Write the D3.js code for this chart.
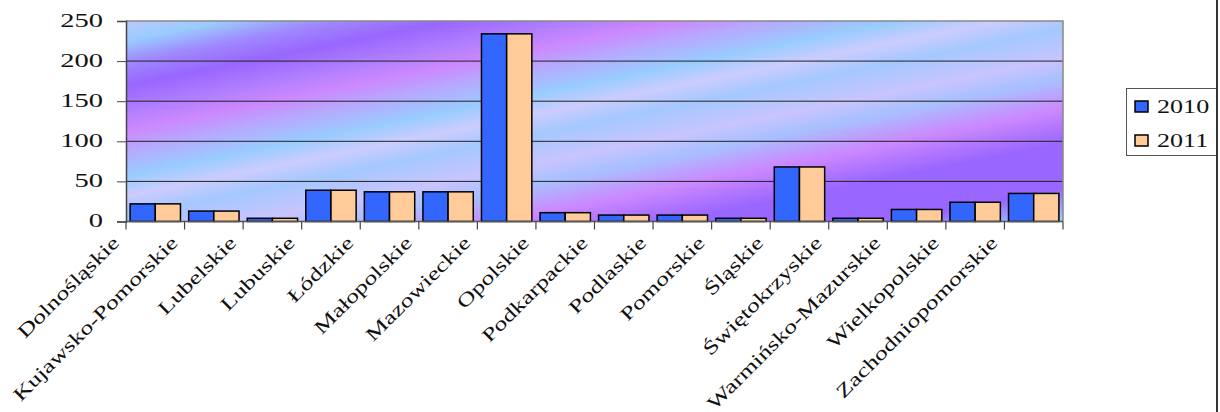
<!DOCTYPE html>
<html>
<head>
<meta charset="utf-8">
<script src="https://cdn.jsdelivr.net/npm/d3@7"></script>
<style>
  body { margin: 0; background: #fff; }
  text { font-family: "Liberation Serif", serif; font-weight: 400; fill: #111; }
</style>
</head>
<body>
<script>
// Data
const regions = ['Dolnośląskie', 'Kujawsko-Pomorskie', 'Lubelskie', 'Lubuskie', 'Łódzkie',
  'Małopolskie', 'Mazowieckie', 'Opolskie', 'Podkarpackie', 'Podlaskie', 'Pomorskie',
  'Śląskie', 'Świętokrzyskie', 'Warmińsko-Mazurskie', 'Wielkopolskie', 'Zachodniopomorskie'];
const years = ['2010', '2011'];
const values2010 = [22, 13, 4, 39, 37, 37, 234, 11, 8, 8, 4, 68, 4, 15, 24, 35];
const values2011 = [22, 13, 4, 39, 37, 37, 234, 11, 8, 8, 4, 68, 4, 15, 24, 35];
const yTicks = [0, 50, 100, 150, 200, 250];

const width = 1220, height = 412;
const plot = { left: 126, right: 1063, top: 21, bottom: 221.5 };
const colors = { '2010': '#3366ff', '2011': '#ffcc99' };

const svg = d3.select('body').append('svg')
  .attr('width', width)
  .attr('height', height);

// background gradient, diagonal bands rising to the right
const k = 0.2, span = 410, xRef = 130;
const bandStops = [
  [0, '#c4ccff'], [21, '#bcc8ff'], [40, '#99ccff'], [62, '#a088ff'], [85, '#9966ff'],
  [110, '#b07eff'], [130, '#cc88ff'], [152, '#b4acff'], [175, '#99ccff'], [195, '#ccccff'],
  [215, '#a4c8ff'], [245, '#c8c4ff'], [265, '#a8c0ff'], [295, '#cc88ff'], [330, '#9966ff'],
  [375, '#9966ff'], [405, '#99ccff']
];
const D = span / (1 + k * k);
const grad = svg.append('defs').append('linearGradient')
  .attr('id', 'bg')
  .attr('gradientUnits', 'userSpaceOnUse')
  .attr('x1', xRef).attr('y1', 0)
  .attr('x2', xRef + k * D).attr('y2', D);
grad.selectAll('stop').data(bandStops).enter().append('stop')
  .attr('offset', d => d[0] / span)
  .attr('stop-color', d => d[1]);

svg.append('rect')
  .attr('x', plot.left).attr('y', plot.top)
  .attr('width', plot.right - plot.left)
  .attr('height', plot.bottom - plot.top)
  .attr('fill', 'url(#bg)');

// scales
const y = d3.scaleLinear().domain([0, 250]).range([plot.bottom, plot.top]);
const x0 = d3.scaleBand().domain(regions)
  .range([plot.left, plot.right])
  .paddingInner(0.14).paddingOuter(0.07);
const x1 = d3.scaleBand().domain(years).range([0, x0.bandwidth()]);
const step = x0.step();

// gridlines
svg.append('g').selectAll('line')
  .data(yTicks.filter(t => t > 0 && t < 250))
  .enter().append('line')
  .attr('x1', plot.left).attr('x2', plot.right)
  .attr('y1', d => y(d)).attr('y2', d => y(d))
  .attr('stroke', '#222').attr('stroke-width', 1);

// plot border top / right
svg.append('path')
  .attr('d', `M${plot.left},${y(250)}H${plot.right}V${plot.bottom}`)
  .attr('fill', 'none').attr('stroke', '#888').attr('stroke-width', 1.5);

// bars
const rows = regions.map((r, i) => ({ region: r, '2010': values2010[i], '2011': values2011[i] }));
svg.append('g').selectAll('g')
  .data(rows).enter().append('g')
  .attr('transform', d => `translate(${x0(d.region)},0)`)
  .selectAll('rect')
  .data(d => years.map(yr => ({ year: yr, value: d[yr] })))
  .enter().append('rect')
  .attr('x', d => x1(d.year))
  .attr('y', d => y(d.value))
  .attr('width', x1.bandwidth())
  .attr('height', d => y(0) - y(d.value))
  .attr('fill', d => colors[d.year])
  .attr('stroke', '#000').attr('stroke-width', 1.5);

// y axis
const yaxis = svg.append('g')
  .attr('transform', `translate(${plot.left},0)`)
  .call(d3.axisLeft(y).tickValues(yTicks).tickSize(9).tickPadding(14));
yaxis.select('.domain').attr('stroke', '#444').attr('stroke-width', 1.5);
yaxis.selectAll('.tick line').attr('stroke', '#444');
yaxis.selectAll('.tick text')
  .attr('font-size', 19)
  .attr('x', null).attr('dy', null)
  .attr('transform', 'translate(-23,5) scale(1.5,1)');

// x axis: ticks at band edges
const xaxis = svg.append('g');
xaxis.append('line')
  .attr('x1', plot.left).attr('x2', plot.right)
  .attr('y1', plot.bottom).attr('y2', plot.bottom)
  .attr('stroke', '#555').attr('stroke-width', 1.5);
xaxis.selectAll('line.tk')
  .data(d3.range(regions.length + 1))
  .enter().append('line').attr('class', 'tk')
  .attr('x1', i => plot.left + i * step).attr('x2', i => plot.left + i * step)
  .attr('y1', plot.bottom).attr('y2', plot.bottom + 8)
  .attr('stroke', '#444').attr('stroke-width', 1.2);

xaxis.selectAll('text')
  .data(regions).enter().append('text')
  .text(d => d)
  .attr('font-size', 19)
  .attr('text-anchor', 'end')
  .attr('transform', d => `translate(${x0(d) + x0.bandwidth() / 2 - 35},244) rotate(-45) scale(1.36,1)`);

// legend
const legend = svg.append('g');
legend.append('rect')
  .attr('x', 1126.5).attr('y', 88.5)
  .attr('width', 90).attr('height', 67)
  .attr('fill', '#fff').attr('stroke', '#555').attr('stroke-width', 1);
const li = legend.selectAll('g.item').data(years).enter().append('g')
  .attr('transform', (d, i) => `translate(1135,${101 + i * 34})`);
li.append('rect')
  .attr('width', 13).attr('height', 11)
  .attr('fill', d => colors[d])
  .attr('stroke', '#000').attr('stroke-width', 1.5);
li.append('text')
  .text(d => d)
  .attr('font-size', 18)
  .attr('transform', 'translate(22,11.5) scale(1.45,1)');

// right frame line
svg.append('line')
  .attr('x1', 1217).attr('x2', 1217)
  .attr('y1', 0).attr('y2', height)
  .attr('stroke', '#333').attr('stroke-width', 2);
</script>
</body>
</html>
